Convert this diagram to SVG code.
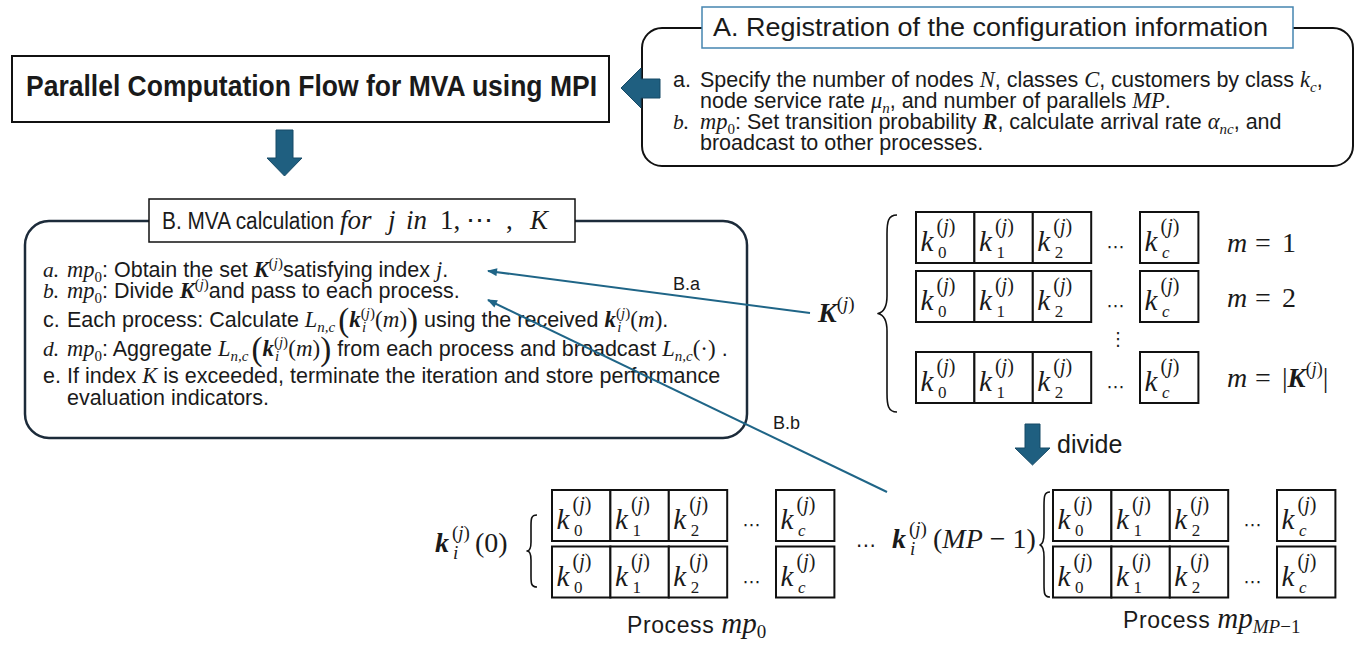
<svg xmlns="http://www.w3.org/2000/svg" xmlns:xlink="http://www.w3.org/1999/xlink" width="1361" height="645" viewBox="0 0 1361 645">
<defs>
<style>
.sans{font-family:"Liberation Sans",Arial,sans-serif;fill:#1a1a1a}
.m{font-family:"Liberation Serif","Times New Roman",serif;font-style:italic;font-weight:normal}
.mb{font-family:"Liberation Serif","Times New Roman",serif;font-style:italic;font-weight:bold}
.r{font-family:"Liberation Serif","Times New Roman","DejaVu Serif",serif;font-style:normal;font-weight:normal}
.mt{font-family:"Liberation Serif","Times New Roman",serif;fill:#1a1a1a}
.cell{fill:#fff;stroke:#111;stroke-width:2}
.blk{fill:#1f5f80;stroke:#174a66;stroke-width:1}
.conn{fill:none;stroke:#1f6587;stroke-width:2}
.brace{fill:none;stroke:#111;stroke-width:1.6;stroke-linejoin:round}
.dots{font-family:"DejaVu Sans",sans-serif;fill:#1a1a1a}
</style>
<marker id="ah" viewBox="0 0 10 8" refX="9" refY="4" markerWidth="11" markerHeight="8" markerUnits="userSpaceOnUse" orient="auto">
<path d="M0,0 L10,4 L0,8 Z" fill="#1f6587"/>
</marker>
<!-- one row of class counts: k_0 .. k_2, dots, k_c -->
<g id="row">
<rect class="cell" x="0" y="0" width="58.4" height="51"/>
<rect class="cell" x="58.4" y="0" width="58.4" height="51"/>
<rect class="cell" x="116.8" y="0" width="58.4" height="51"/>
<rect class="cell" x="224" y="0" width="58.4" height="51"/>
<text class="mt"><tspan class="m" x="4.5" y="39" font-size="29">k</tspan><tspan class="r" x="20.5" y="21" font-size="20">(</tspan><tspan class="m" font-size="20">j</tspan><tspan class="r" font-size="20">)</tspan><tspan class="r" x="22" y="46" font-size="17">0</tspan></text>
<text class="mt"><tspan class="m" x="62.9" y="39" font-size="29">k</tspan><tspan class="r" x="78.9" y="21" font-size="20">(</tspan><tspan class="m" font-size="20">j</tspan><tspan class="r" font-size="20">)</tspan><tspan class="r" x="80.4" y="46" font-size="17">1</tspan></text>
<text class="mt"><tspan class="m" x="121.3" y="39" font-size="29">k</tspan><tspan class="r" x="137.3" y="21" font-size="20">(</tspan><tspan class="m" font-size="20">j</tspan><tspan class="r" font-size="20">)</tspan><tspan class="r" x="138.8" y="46" font-size="17">2</tspan></text>
<text class="mt"><tspan class="m" x="228.5" y="39" font-size="29">k</tspan><tspan class="r" x="244.5" y="21" font-size="20">(</tspan><tspan class="m" font-size="20">j</tspan><tspan class="r" font-size="20">)</tspan><tspan class="m" x="246" y="46" font-size="17">c</tspan></text>
<text class="dots" x="199.6" y="41" font-size="18" text-anchor="middle">⋯</text>
</g>
</defs>

<rect width="1361" height="645" fill="#fff"/>

<!-- title -->
<g id="title">
<rect x="12" y="56" width="597" height="66" fill="#fff" stroke="#111" stroke-width="2"/>
<text class="sans" x="26" y="96" font-size="29" font-weight="bold" textLength="571" lengthAdjust="spacingAndGlyphs">Parallel Computation Flow for MVA using MPI</text>
</g>

<!-- A: configuration -->
<g id="stepA">
<rect x="642" y="28" width="711" height="138" rx="20" fill="#fff" stroke="#111" stroke-width="2"/>
<rect x="702" y="7" width="591" height="41" fill="#fff" stroke="#4585b0" stroke-width="1.5"/>
<text class="sans" x="713" y="36" font-size="25" textLength="555" lengthAdjust="spacingAndGlyphs">A. Registration of the configuration information</text>
<text class="sans" font-size="21.5" y="87"><tspan x="673">a.</tspan><tspan x="700">Specify the number of nodes </tspan><tspan class="m" font-size="22.5">N</tspan><tspan>, classes </tspan><tspan class="m" font-size="22.5">C</tspan><tspan>, customers by class </tspan><tspan class="m" font-size="22.5">k</tspan><tspan class="m" font-size="15" dy="5">c</tspan><tspan dy="-5">,</tspan></text>
<text class="sans" font-size="21.5" y="108"><tspan x="700">node service rate </tspan><tspan class="m" font-size="22.5">μ</tspan><tspan class="m" font-size="15" dy="5">n</tspan><tspan dy="-5">, and number of parallels </tspan><tspan class="m" font-size="22.5">MP</tspan><tspan>.</tspan></text>
<text class="sans" font-size="21.5" y="129"><tspan class="m" x="673">b.</tspan><tspan class="m" x="700" font-size="22.5">mp</tspan><tspan class="r" font-size="15" dy="5">0</tspan><tspan dy="-5">: Set transition probability </tspan><tspan class="mb" font-size="22.5">R</tspan><tspan>, calculate arrival rate </tspan><tspan class="m" font-size="22.5">α</tspan><tspan class="m" font-size="15" dy="5">nc</tspan><tspan dy="-5">, and</tspan></text>
<text class="sans" font-size="21.5" x="700" y="150">broadcast to other processes.</text>
</g>

<!-- B: MVA loop -->
<g id="stepB">
<rect x="25" y="221" width="722" height="217" rx="24" fill="#fff" stroke="#1c2b3a" stroke-width="2.5"/>
<rect x="149" y="199" width="426" height="43" fill="#fff" stroke="#111" stroke-width="1.5"/>
<text class="sans" x="162" y="229" font-size="23" textLength="172" lengthAdjust="spacingAndGlyphs">B. MVA calculation</text>
<text class="mt" y="229" font-size="27"><tspan class="m" x="340">for</tspan><tspan class="m" x="388">j</tspan><tspan class="m" x="406">in</tspan><tspan class="r" x="440">1,</tspan><tspan class="r" x="466">⋯</tspan><tspan class="r" x="506">,</tspan><tspan class="m" x="530">K</tspan></text>

<text class="sans" font-size="21.5" y="277"><tspan class="m" x="43">a.</tspan><tspan class="m" x="67" font-size="22.5">mp</tspan><tspan class="r" font-size="15" dy="5">0</tspan><tspan dy="-5">: Obtain the set </tspan><tspan class="mb" font-size="22.5">K</tspan><tspan class="r" font-size="15" dy="-9">(</tspan><tspan class="m" font-size="15">j</tspan><tspan class="r" font-size="15">)</tspan><tspan dy="9">satisfying index </tspan><tspan class="m" font-size="22.5">j</tspan><tspan>.</tspan></text>

<text class="sans" font-size="21.5" y="298"><tspan class="m" x="43">b.</tspan><tspan class="m" x="67" font-size="22.5">mp</tspan><tspan class="r" font-size="15" dy="5">0</tspan><tspan dy="-5">: Divide </tspan><tspan class="mb" font-size="22.5">K</tspan><tspan class="r" font-size="15" dy="-9">(</tspan><tspan class="m" font-size="15">j</tspan><tspan class="r" font-size="15">)</tspan><tspan dy="9">and pass to each process.</tspan></text>

<text class="sans" font-size="21.5" y="327"><tspan x="43">c.</tspan><tspan x="67">Each process: Calculate </tspan><tspan class="m" font-size="22.5">L</tspan><tspan class="m" font-size="15" dy="5">n,c</tspan><tspan class="r" font-size="33" dx="3" dy="-1">(</tspan><tspan class="mb" font-size="23" dy="-4">k</tspan><tspan class="r" font-size="15" dy="-9">(</tspan><tspan class="m" font-size="15">j</tspan><tspan class="r" font-size="15">)</tspan><tspan class="m" font-size="15" dx="-13" dy="14">i</tspan><tspan class="r" font-size="23" dx="9" dy="-5">(</tspan><tspan class="m" font-size="23">m</tspan><tspan class="r" font-size="23">)</tspan><tspan class="r" font-size="33" dy="4">)</tspan><tspan dy="-4"> using the received </tspan><tspan class="mb" font-size="23">k</tspan><tspan class="r" font-size="15" dy="-9">(</tspan><tspan class="m" font-size="15">j</tspan><tspan class="r" font-size="15">)</tspan><tspan class="m" font-size="15" dx="-13" dy="14">i</tspan><tspan class="r" font-size="23" dx="9" dy="-5">(</tspan><tspan class="m" font-size="23">m</tspan><tspan class="r" font-size="23">)</tspan><tspan>.</tspan></text>

<text class="sans" font-size="21.5" y="356"><tspan class="m" x="43">d.</tspan><tspan class="m" x="67" font-size="22.5">mp</tspan><tspan class="r" font-size="15" dy="5">0</tspan><tspan dy="-5">: Aggregate </tspan><tspan class="m" font-size="22.5">L</tspan><tspan class="m" font-size="15" dy="5">n,c</tspan><tspan class="r" font-size="33" dx="3" dy="-1">(</tspan><tspan class="mb" font-size="23" dy="-4">k</tspan><tspan class="r" font-size="15" dy="-9">(</tspan><tspan class="m" font-size="15">j</tspan><tspan class="r" font-size="15">)</tspan><tspan class="m" font-size="15" dx="-13" dy="14">i</tspan><tspan class="r" font-size="23" dx="9" dy="-5">(</tspan><tspan class="m" font-size="23">m</tspan><tspan class="r" font-size="23">)</tspan><tspan class="r" font-size="33" dy="4">)</tspan><tspan dy="-4"> from each process and broadcast </tspan><tspan class="m" font-size="22.5">L</tspan><tspan class="m" font-size="15" dy="5">n,c</tspan><tspan class="r" font-size="23" dy="-5">(·)</tspan><tspan> .</tspan></text>

<text class="sans" font-size="21.5" y="383"><tspan x="43">e.</tspan><tspan x="67">If index </tspan><tspan class="m" font-size="22.5">K</tspan><tspan> is exceeded, terminate the iteration and store performance</tspan></text>
<text class="sans" font-size="21.5" x="67" y="405">evaluation indicators.</text>
</g>

<!-- set K^(j) split into rows m = 1 .. |K^(j)| -->
<g id="setK">
<text class="mt" x="818" y="322"><tspan class="mb" font-size="28">K</tspan><tspan class="r" font-size="19" dy="-12">(</tspan><tspan class="m" font-size="19">j</tspan><tspan class="r" font-size="19">)</tspan></text>
<path class="brace" d="M897,215 C888,215 887,222 887,234 L887,296 C887,306 884,312 878,313.5 C884,315 887,321 887,331 L887,393 C887,405 888,412 897,412"/>
<use xlink:href="#row" href="#row" x="916" y="212"/>
<use xlink:href="#row" href="#row" x="916" y="271"/>
<use xlink:href="#row" href="#row" x="916" y="352"/>
<text class="dots" x="1118" y="345" font-size="18" text-anchor="middle">⋮</text>
<text class="mt" font-size="28" y="252"><tspan class="m" x="1227">m</tspan><tspan x="1255">=</tspan><tspan x="1282">1</tspan></text>
<text class="mt" font-size="28" y="307"><tspan class="m" x="1227">m</tspan><tspan x="1255">=</tspan><tspan x="1282">2</tspan></text>
<text class="mt" font-size="28" y="387"><tspan class="m" x="1227">m</tspan><tspan x="1255">=</tspan><tspan x="1282">|</tspan><tspan class="mb" font-size="27">K</tspan><tspan class="r" font-size="18" dy="-12">(</tspan><tspan class="m" font-size="18">j</tspan><tspan class="r" font-size="18">)</tspan><tspan dy="12">|</tspan></text>
</g>

<!-- divide arrow -->
<g id="divide">
<polygon class="blk" points="1025,424 1040,424 1040,448 1050,448 1032.5,465 1015,448 1025,448"/>
<text class="sans" x="1057" y="453" font-size="25">divide</text>
</g>

<!-- process mp_0 -->
<g id="proc0">
<text class="mt" y="552"><tspan class="mb" x="435" font-size="28">k</tspan><tspan class="r" font-size="19" x="452" dy="-13">(</tspan><tspan class="m" font-size="19">j</tspan><tspan class="r" font-size="19">)</tspan><tspan class="m" font-size="19" x="453" dy="20">i</tspan><tspan class="r" font-size="28" x="475" dy="-7">(0)</tspan></text>
<path class="brace" d="M537,515 C531,515 531,519 531,526 L531,542 C531,548 530,551 527,551 C530,551 531,554 531,560 L531,576 C531,583 531,587 537,587"/>
<use xlink:href="#row" href="#row" x="552" y="490"/>
<use xlink:href="#row" href="#row" x="552" y="546.5"/>
<text class="sans" x="627" y="633" font-size="23" letter-spacing="0.6">Process <tspan class="m" font-size="29" letter-spacing="0">mp</tspan><tspan class="r" font-size="19" dy="5" letter-spacing="0">0</tspan></text>
</g>

<text class="dots" x="866" y="552" font-size="20" text-anchor="middle">⋯</text>

<!-- process mp_{MP-1} -->
<g id="procLast">
<text class="mt" y="548"><tspan class="mb" x="892" font-size="28">k</tspan><tspan class="r" font-size="19" x="909" dy="-13">(</tspan><tspan class="m" font-size="19">j</tspan><tspan class="r" font-size="19">)</tspan><tspan class="m" font-size="19" x="910" dy="20">i</tspan><tspan class="r" font-size="28" x="933" dy="-7">(</tspan><tspan class="m" font-size="28">MP</tspan><tspan class="r" font-size="28"> − 1)</tspan></text>
<path class="brace" d="M1050,492 C1044,492 1044,497 1044,506 L1044,533 C1044,540 1043,544 1040,545 C1043,546 1044,550 1044,557 L1044,584 C1044,593 1044,597 1050,597"/>
<use xlink:href="#row" href="#row" x="1053" y="490"/>
<use xlink:href="#row" href="#row" x="1053" y="546.5"/>
<text class="sans" x="1123" y="628" font-size="23" letter-spacing="0.6">Process <tspan class="m" font-size="29" letter-spacing="0">mp</tspan><tspan class="m" font-size="19" dy="5" letter-spacing="0">MP</tspan><tspan class="r" font-size="19" letter-spacing="0">−1</tspan></text>
</g>

<!-- flow arrows between steps -->
<g id="flow">
<polygon class="blk" points="621,88 641,68 641,79 660,79 660,98 641,98 641,108"/>
<polygon class="blk" points="276,130 293,130 293,158 302,158 284.5,176 267,158 276,158"/>
</g>

<!-- connectors -->
<g id="connectors">
<line class="conn" x1="810" y1="313" x2="488" y2="271" marker-end="url(#ah)"/>
<line class="conn" x1="887" y1="492" x2="488" y2="300" marker-end="url(#ah)"/>
<text class="sans" x="673" y="290" font-size="18">B.a</text>
<text class="sans" x="773" y="429" font-size="18">B.b</text>
</g>
</svg>
